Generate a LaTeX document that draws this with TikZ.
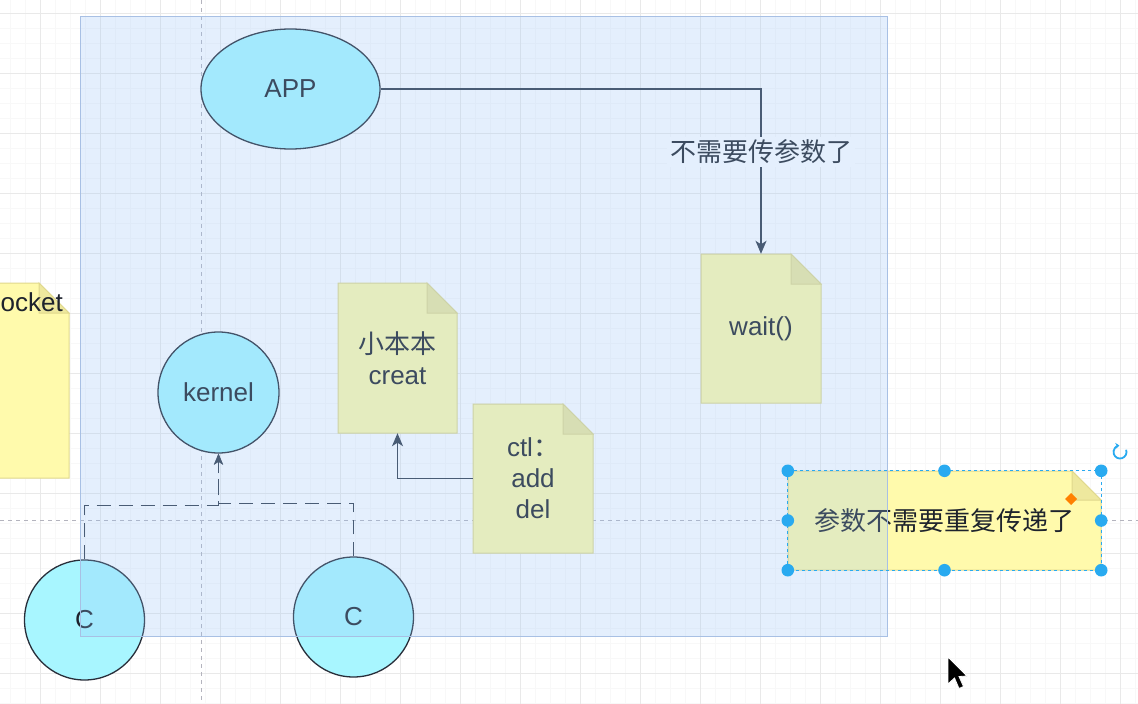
\documentclass[tikz,border=0pt]{standalone}
\usepackage{fontspec}
\setmainfont{Liberation Sans}
\newfontfamily\cjk{Noto Sans CJK SC}
\usetikzlibrary{arrows.meta,shapes.geometric,calc}

\definecolor{cyanc}{RGB}{168,246,255}
\definecolor{yellowc}{RGB}{255,250,172}
\definecolor{foldc}{RGB}{238,232,158}
\definecolor{noteborder}{RGB}{224,216,140}
\definecolor{strokec}{RGB}{40,46,58}
\definecolor{linec}{RGB}{48,58,74}
\definecolor{textc}{RGB}{30,35,45}
\definecolor{overlayc}{RGB}{150,195,248}
\definecolor{contborder}{RGB}{168,192,228}
\definecolor{gridminor}{RGB}{248,248,248}
\definecolor{gridmajor}{RGB}{233,233,233}
\definecolor{guidec}{RGB}{180,180,190}
\definecolor{selc}{RGB}{41,170,240}

\newcommand\notefig[5]{%
  \filldraw[fill=yellowc, draw=noteborder, line width=1pt]
    ({#1-#3/2},{#2-#4/2}) -- ({#1+#3/2-#5},{#2-#4/2}) -- ({#1+#3/2},{#2-#4/2+#5})
    -- ({#1+#3/2},{#2+#4/2}) -- ({#1-#3/2},{#2+#4/2}) -- cycle;
  \filldraw[fill=foldc, draw=noteborder, line width=1pt]
    ({#1+#3/2-#5},{#2-#4/2}) -- ({#1+#3/2-#5},{#2-#4/2+#5}) -- ({#1+#3/2},{#2-#4/2+#5}) -- cycle;
}

\tikzset{
  txt/.style={font=\fontsize{26pt}{31pt}\selectfont, text=textc},
  notearea/.style={txt, inner sep=0pt, align=center},
  cyanshape/.style={fill=cyanc, draw=strokec, line width=1.3pt, inner sep=0pt, txt},
  conn/.style={draw=linec, line width=1.5pt},
  tip/.style={-{Stealth[length=13pt,width=11pt,inset=3.5pt]}},
  smalltip/.style={-{Stealth[length=11pt,width=9pt,inset=3pt]}},
  dashpat/.style={dash pattern=on 14pt off 8pt},
  guide/.style={draw=guidec, line width=1pt, dash pattern=on 4pt off 4pt},
  handle/.style={fill=selc},
}

\begin{document}
\begin{tikzpicture}[x=1pt,y=-1pt]
\useasboundingbox (0,0) rectangle (1138,704);
\clip (0,0) rectangle (1138,704);
\fill[white] (0,0) rectangle (1138,704);

% grid
\draw[gridminor, line width=0.8pt]
  \foreach \x in {-5,10,...,1140} {(\x,0) -- (\x,704)}
  \foreach \y in {-2,13,...,710} {(0,\y) -- (1138,\y)};
\draw[gridmajor, line width=1pt]
  \foreach \x in {-20,40,...,1140} {(\x,0) -- (\x,704)}
  \foreach \y in {13,73,...,710} {(0,\y) -- (1138,\y)};

% alignment guides
\draw[guide] (201,0) -- (201,704);
\draw[guide] (0,520) -- (1138,520);

% circles
\node[cyanshape, circle, minimum size=120pt] (c1) at (84.5,620) {C};
\node[cyanshape, circle, minimum size=120pt] (c2) at (353.5,617) {C};
\node[cyanshape, circle, minimum size=121pt] (kernel) at (218.5,392.5) {kernel};
\node[cyanshape, ellipse, minimum width=179pt, minimum height=120pt] (app) at (290.5,89) {APP};

% notes
\notefig{9}{380.5}{120}{195}{30}
\node[txt, anchor=west, inner sep=0pt] (sock) at (0.5,302) {ocket};
\notefig{397.5}{358}{119}{150}{30}
\node[notearea, minimum width=119pt, minimum height=150pt] (creat) at (397.5,358) {{\cjk 小本本}\\creat};
\notefig{533}{478.5}{120}{149}{30}
\node[notearea, minimum width=120pt, minimum height=149pt] (ctl) at (533,478.5) {ctl{\cjk ：}\\add\\del};
\notefig{761}{328.5}{120}{149}{30}
\node[notearea, minimum width=120pt, minimum height=149pt] (wait) at (761,328.5) {wait()};
\notefig{944.5}{520.5}{313}{99}{29}
\node[notearea, minimum width=313pt, minimum height=99pt] (rep) at (944.5,520.5) {\cjk 参数不需要重复传递了};

% connectors
\draw[conn, tip] (app.east) -| node[pos=0.69, fill=white, txt, inner sep=3pt] (lbl) {\cjk 不需要传参数了} (wait.north);
\draw[conn, tip] (ctl.west) -| (creat.south);
\draw[conn, dashpat, smalltip] (c1.north) -- ++(0,-54) -| (kernel.south);
\draw[conn, dashpat, smalltip] (c2.north) -- ++(0,-53) -| (kernel.south);

% container (semi-transparent, above the shapes)
\node[fill=overlayc, fill opacity=0.25, draw=contborder, line width=1pt, minimum width=807pt, minimum height=620pt, inner sep=0pt] (box) at (483.5,326) {};

% selection UI
\draw[selc, line width=1pt, dash pattern=on 3pt off 3pt] (rep.north west) rectangle (rep.south east);
\foreach \p in {north west, north, north east, west, east, south west, south, south east}
  \fill[handle] (rep.\p) circle[radius=6.3];
\fill[orange] (1071,493) -- (1077,499) -- (1071,505) -- (1065,499) -- cycle;
\draw[selc, line width=1.8pt, -{Stealth[length=4pt,width=6pt]}] (1120,452) ++(-20:6.5) arc[start angle=-20, end angle=265, radius=6.5];

% mouse cursor
\filldraw[fill=black, draw=white, line width=0.8pt] (948,657) -- (948,684) -- (954.5,678) -- (959,688.5) -- (963.5,686.5) -- (959,676.5) -- (967,676) -- cycle;
\end{tikzpicture}
\end{document}
